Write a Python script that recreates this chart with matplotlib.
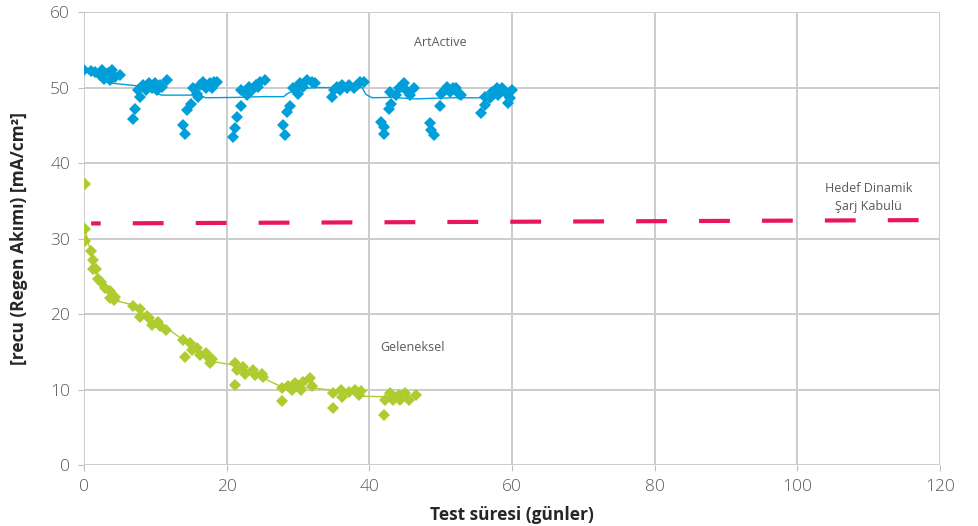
import matplotlib.pyplot as plt

# ArtActive olcumleri
art_x = [0.05, 1.0, 1.6, 2.2, 2.5, 2.85, 3.4, 3.65, 3.9, 4.3, 5.0,
         6.9, 7.2, 7.6, 7.85, 8.3, 8.65, 9.1, 9.5, 9.95, 10.3, 10.65, 11.0, 11.6,
         13.9, 14.2, 14.4, 15.0, 15.3, 15.8, 16.0, 16.3, 16.7, 17.1, 17.7, 17.9, 18.2, 18.6,
         20.9, 21.1, 21.4, 22.0, 22.0, 22.9, 23.2, 23.5, 24.1, 24.4, 24.7, 25.4,
         27.9, 28.2, 28.5, 28.9, 29.3, 29.8, 30.0, 30.3, 30.7, 31.2, 31.9, 32.4,
         34.7, 35.0, 35.4, 35.9, 36.2, 36.8, 37.2, 37.8, 38.2, 38.7, 39.2,
         41.7, 42.0, 42.1, 42.7, 43.0, 42.9, 43.8, 44.1, 44.5, 44.9, 45.2, 45.7, 46.2,
         48.5, 48.7, 49.0, 49.9, 50.1, 50.6, 50.9, 51.3, 51.7, 52.2, 52.5, 52.9,
         55.7, 56.2, 56.2, 56.9, 57.2, 57.9, 58.1, 58.6, 59.0, 59.5, 59.7, 60.0]
art_y = [52.3, 52.2, 52.1, 51.7, 52.3, 51.2, 51.9, 51.0, 52.3, 51.4, 51.7,
         45.9, 47.2, 49.7, 48.8, 50.3, 49.7, 50.6, 49.9, 50.6, 49.7, 50.3, 50.1, 51.0,
         45.0, 43.8, 47.0, 47.8, 49.9, 49.2, 48.8, 50.3, 50.8, 49.9, 50.6, 49.9, 50.8, 50.8,
         43.5, 44.7, 46.1, 47.5, 49.7, 49.0, 50.1, 49.7, 50.3, 50.1, 50.8, 51.0,
         45.1, 43.7, 46.8, 47.5, 49.9, 50.1, 49.2, 50.6, 50.1, 51.0, 50.8, 50.6,
         48.8, 49.7, 50.1, 49.7, 50.3, 49.9, 50.3, 49.9, 50.3, 50.8, 50.8,
         45.5, 44.8, 43.9, 47.2, 47.8, 49.4, 49.0, 49.9, 50.1, 50.6, 49.7, 49.0, 49.9,
         45.3, 44.4, 43.7, 47.5, 49.2, 49.7, 50.1, 49.4, 49.9, 49.9, 49.2, 49.0,
         46.6, 47.7, 48.8, 48.6, 49.4, 49.9, 49.0, 49.9, 49.4, 47.9, 48.6, 49.7]

# ArtActive trend cizgisi
art_trend_x = [0.05, 3.7, 7.8, 9.0, 10.9, 15.3, 16.5, 17.0, 21.5, 25.0, 28.0, 28.5, 30.0,
               32.4, 39.0, 39.5, 40.4, 43.0, 46.5, 49.5, 52.0, 55.5, 56.5, 60.0]
art_trend_y = [52.2, 50.6, 50.2, 49.6, 49.0, 49.0, 48.9, 48.65, 48.7, 48.8, 48.8, 49.2, 49.8,
               50.0, 50.0, 49.1, 48.65, 48.7, 48.5, 48.6, 48.65, 48.65, 49.0, 49.3]

# Geleneksel olcumleri
gel_x = [0.14, 0.14, 0.2, 1.0, 1.3, 1.3, 1.65, 2.0, 2.4, 3.0, 3.65, 3.65, 4.35, 4.25,
         6.9, 7.85, 7.85, 8.8, 9.1, 9.5, 10.4, 10.65, 11.5,
         13.9, 14.2, 14.9, 15.1, 15.8, 16.3, 17.1, 17.4, 17.6, 17.9,
         21.2, 21.2, 21.4, 22.3, 22.6, 23.7, 24.0, 24.9, 25.1,
         27.8, 27.8, 28.6, 29.1, 29.6, 30.0, 30.4, 30.7, 31.7, 32.0,
         34.9, 34.9, 36.0, 36.1, 37.1, 38.0, 38.5, 38.9,
         42.0, 42.2, 42.9, 43.3, 44.1, 44.3, 45.0, 45.5, 46.6]
gel_y = [37.2, 31.3, 29.7, 28.3, 27.1, 26.0, 25.9, 24.7, 24.3, 23.4, 23.0, 22.1, 22.3, 21.8,
         21.0, 20.6, 19.6, 19.7, 19.5, 18.5, 18.9, 18.4, 17.9,
         16.6, 14.3, 16.1, 15.2, 15.5, 14.6, 14.8, 14.3, 13.5, 14.1,
         13.5, 10.6, 12.6, 13.0, 12.1, 12.6, 11.9, 12.1, 11.7,
         10.2, 8.5, 10.4, 9.9, 10.8, 10.4, 9.9, 11.0, 11.5, 10.5,
         9.5, 7.5, 9.9, 9.0, 9.7, 10.0, 9.3, 9.8,
         6.6, 8.6, 9.5, 8.6, 9.3, 8.6, 9.5, 8.6, 9.3]

# Geleneksel trend cizgisi
gel_trend_x = [0.2, 1.0, 2.0, 3.0, 4.3, 6.9, 8.8, 11.5, 12.1, 14.0, 16.0, 18.1, 21.2,
               23.0, 25.6, 27.8, 30.0, 32.1, 34.9, 37.0, 39.1, 42.0, 44.0]
gel_trend_y = [31.0, 28.0, 25.0, 23.5, 21.8, 21.2, 19.7, 17.9, 17.8, 16.5, 15.0, 13.7, 13.2,
               12.5, 11.3, 10.3, 10.3, 10.2, 9.9, 9.6, 9.1, 9.05, 9.0]

# Hedef dinamik sarj kabulu
target_x = [1.0, 119.5]
target_y = [32.0, 32.45]

blue = '#009fda'
green = '#aecb2f'
pink = '#e8175d'
gray_txt = '#595959'

fig = plt.figure(figsize=(9.79, 5.26), dpi=100)
ax = fig.add_axes([0.0858, 0.116, 0.8744, 0.861])

ax.plot(target_x, target_y, color=pink, lw=3, linestyle=(5.1, (7.4, 7.7)), zorder=2)

ax.plot(art_trend_x, art_trend_y, color=blue, lw=1, zorder=3)
ax.plot(art_x, art_y, 'D', color=blue, ms=6.5, mew=0, zorder=4)
ax.plot(gel_trend_x, gel_trend_y, color=green, lw=1, zorder=3)
ax.plot(gel_x, gel_y, 'D', color=green, ms=6.5, mew=0, zorder=4)

ax.set_xlim(0, 120)
ax.set_ylim(0, 60)
ax.set_xticks(range(0, 121, 20))
ax.set_yticks(range(0, 61, 10))
ax.grid(True, color='#cccccc', lw=1.4, zorder=0)
ax.set_axisbelow(True)
for s in ax.spines.values():
    s.set_visible(False)
ax.tick_params(length=4, color='#bfbfbf', labelcolor=gray_txt, labelsize=12.5, pad=6)
for lab in ax.get_xticklabels() + ax.get_yticklabels():
    lab.set_fontfamily('Open Sans')
    lab.set_fontweight('light')

ax.set_xlabel('Test süresi (günler)', fontsize=12.5, fontweight='bold',
              color='#262626', family='Open Sans', labelpad=8)
ax.set_ylabel('[recu (Regen Akımı) [mA/cm²]', fontsize=12.5, fontweight='bold',
              color='#262626', family='Open Sans', labelpad=16)

ax.text(50, 56.0, 'ArtActive', ha='center', va='center', fontsize=9,
        color=gray_txt, family='Open Sans')
ax.text(46.0, 15.5, 'Geleneksel', ha='center', va='center', fontsize=9,
        color=gray_txt, family='Open Sans')
ax.text(110.0, 35.4, 'Hedef Dinamik\nŞarj Kabulü', ha='center', va='center',
        fontsize=9, color=gray_txt, family='Open Sans', linespacing=1.5)

plt.savefig('out.png', dpi=100)
